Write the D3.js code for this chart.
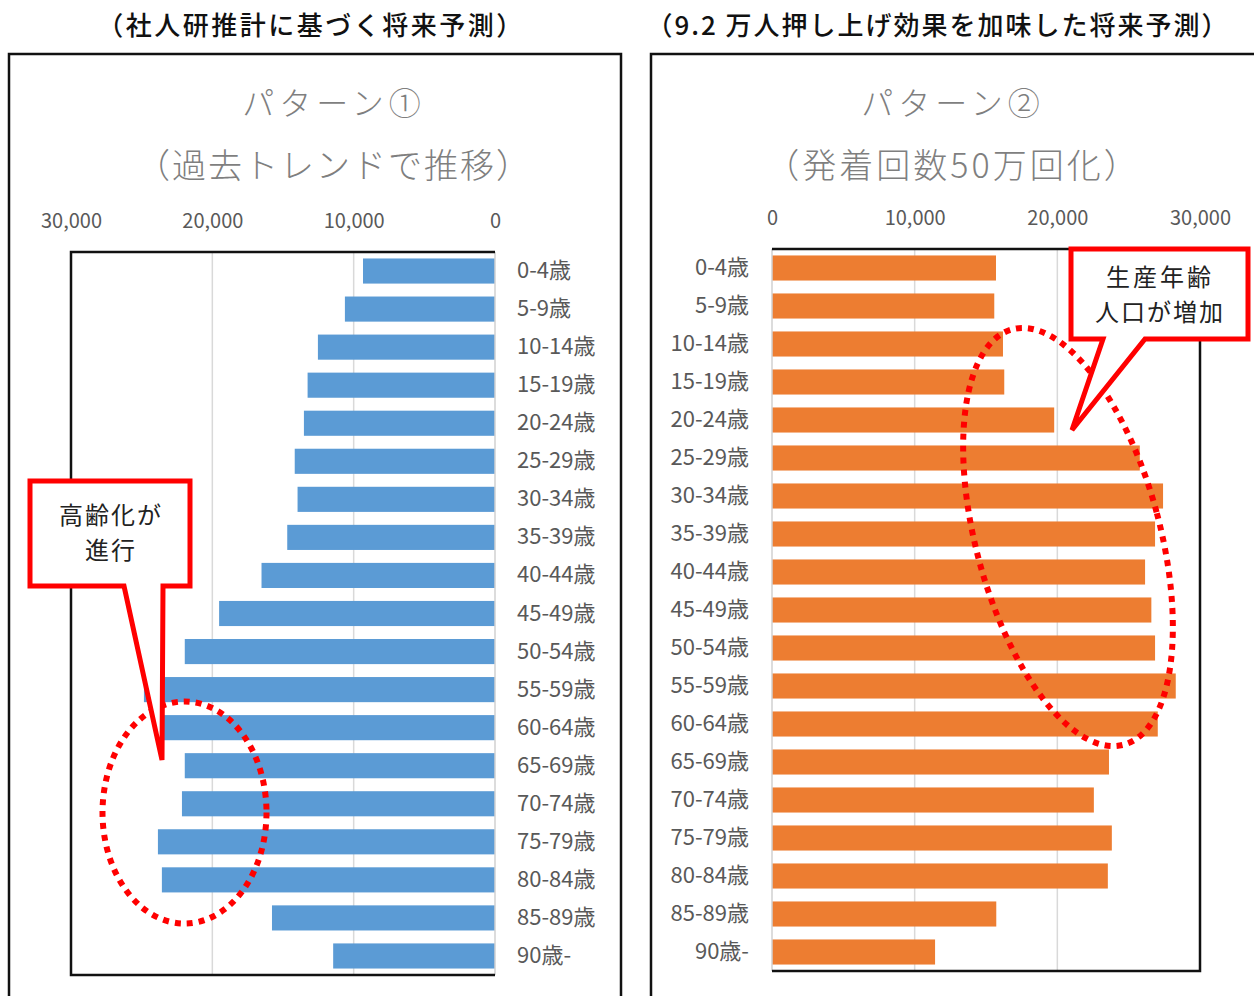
<!DOCTYPE html>
<html><head><meta charset="utf-8">
<script src="https://cdn.jsdelivr.net/npm/d3@7"></script>
<style>
html,body{margin:0;padding:0;background:#fff;}
svg text{font-family:"Noto Sans CJK JP","Noto Sans",sans-serif;}
</style>
</head><body>
<svg id="c" width="1254" height="996"></svg>
<script>
const categories = ["0-4歳","5-9歳","10-14歳","15-19歳","20-24歳","25-29歳","30-34歳","35-39歳","40-44歳","45-49歳","50-54歳","55-59歳","60-64歳","65-69歳","70-74歳","75-79歳","80-84歳","85-89歳","90歳-"];
const pattern1 = [9340,10620,12530,13260,13520,14170,13970,14700,16520,19520,21950,24840,23990,21950,22150,23850,23570,15780,11450];
const pattern2 = [15700,15580,16190,16280,19780,25780,27410,26850,26150,26590,26850,28300,27040,23620,22560,23820,23540,15720,11430];
const tickValues = [0,10000,20000,30000];
const headers = ["（社人研推計に基づく将来予測）","（9.2 万人押し上げ効果を加味した将来予測）"];
const titles1 = ["パターン①","（過去トレンドで推移）"];
const titles2 = ["パターン②","（発着回数50万回化）"];
const callout1 = ["高齢化が","進行"];
const callout2 = ["生産年齢","人口が増加"];

const svg = d3.select("#c");
const fmt = d3.format(",");

// outer frames
svg.append("rect").attr("x",9).attr("y",54).attr("width",612).attr("height",980)
  .attr("fill","none").attr("stroke","#111").attr("stroke-width",2.5);
svg.append("rect").attr("x",651).attr("y",54).attr("width",640).attr("height",980)
  .attr("fill","none").attr("stroke","#111").attr("stroke-width",2.5);

// headers
svg.append("text").attr("x",311).attr("y",35).attr("text-anchor","middle")
  .attr("font-size",26).attr("font-weight",500).attr("letter-spacing",2.5).attr("fill","#111").text(headers[0]);
svg.append("text").attr("x",938).attr("y",35).attr("text-anchor","middle")
  .attr("font-size",26).attr("font-weight",500).attr("letter-spacing",2).attr("fill","#111").text(headers[1]);

function titles(cx, t, ls2){
  svg.append("text").attr("x",cx).attr("y",115).attr("text-anchor","middle")
    .attr("font-size",32).attr("font-weight",300).attr("letter-spacing",5).attr("fill","#7f7f7f").text(t[0]);
  svg.append("text").attr("x",cx).attr("y",178).attr("text-anchor","middle")
    .attr("font-size",34).attr("font-weight",300).attr("letter-spacing",ls2).attr("fill","#7f7f7f").text(t[1]);
}
titles(334, titles1, 2);
titles(953, titles2, 3);

function chart(opts){
  const {x0,x1,y0,y1,data,color,side} = opts;
  const x = d3.scaleLinear().domain([0,30000]).range(side==="left"?[x1,x0]:[x0,x1]);
  const y = d3.scaleBand().domain(categories).range([y0,y1]).paddingInner(0.34).paddingOuter(0.17);
  const g = svg.append("g");
  // gridlines
  g.selectAll("line.grid").data([10000,20000]).join("line")
    .attr("x1",d=>x(d)).attr("x2",d=>x(d)).attr("y1",y0).attr("y2",y1)
    .attr("stroke","#d9d9d9").attr("stroke-width",1.5);
  // bars
  g.selectAll("rect.bar").data(data).join("rect")
    .attr("x",(d)=>Math.min(x(0),x(d)))
    .attr("width",(d)=>Math.abs(x(d)-x(0)))
    .attr("y",(d,i)=>y(categories[i]))
    .attr("height",y.bandwidth())
    .attr("fill",color);
  // zero axis line (grey)
  g.append("line").attr("x1",x(0)).attr("x2",x(0)).attr("y1",y0).attr("y2",y1)
    .attr("stroke","#d0d0d0").attr("stroke-width",1.5);
  // black border on other three sides
  const far = x(30000);
  g.append("path")
    .attr("d", `M${x(0)},${y0} H${far} V${y1} H${x(0)}`)
    .attr("fill","none").attr("stroke","#111").attr("stroke-width",2.5);
  // value axis on top
  const ax = d3.axisTop(x).tickValues(tickValues).tickFormat(fmt).tickSize(0).tickPadding(24);
  const ga = svg.append("g").attr("transform",`translate(0,${y0})`).call(ax);
  ga.select(".domain").remove();
  ga.selectAll("text").attr("font-size",20).attr("fill","#595959")
    .style("font-family","'Noto Sans CJK JP',sans-serif");
  // category axis
  const cat = side==="left"
    ? d3.axisRight(y).tickSize(0).tickPadding(22)
    : d3.axisLeft(y).tickSize(0).tickPadding(23);
  const gc = svg.append("g").attr("transform",`translate(${x(0)},0)`).call(cat);
  gc.select(".domain").remove();
  gc.selectAll("text").attr("font-size",22).attr("fill","#595959")
    .style("font-family","'Noto Sans CJK JP',sans-serif");
}
chart({x0:71,x1:495,y0:252,y1:975,data:pattern1,color:"#5b9bd5",side:"left"});
chart({x0:772,x1:1200,y0:249,y1:971,data:pattern2,color:"#ed7d31",side:"right"});

// dotted ellipses
svg.append("ellipse").attr("cx",184.5).attr("cy",812.5).attr("rx",82).attr("ry",111)
  .attr("fill","none").attr("stroke","#ff0000").attr("stroke-width",6).attr("stroke-dasharray","6,6");
svg.append("ellipse").attr("cx",0).attr("cy",0).attr("rx",92).attr("ry",215)
  .attr("transform","translate(1068,537) rotate(-15)")
  .attr("fill","none").attr("stroke","#ff0000").attr("stroke-width",6).attr("stroke-dasharray","6,6");

// callouts
svg.append("path").attr("d","M30,481 H190 V586 H163 L162,760 L124,586 H30 Z")
  .attr("fill","#fff").attr("stroke","#ff0000").attr("stroke-width",5).attr("stroke-linejoin","miter");
svg.append("text").attr("x",111).attr("y",524).attr("text-anchor","middle")
  .attr("font-size",24).attr("letter-spacing",2).attr("fill","#222").text(callout1[0]);
svg.append("text").attr("x",111).attr("y",559).attr("text-anchor","middle")
  .attr("font-size",24).attr("letter-spacing",2).attr("fill","#222").text(callout1[1]);

svg.append("path").attr("d","M1071,249 H1248 V339 H1145 L1072,430 L1103,339 H1071 Z")
  .attr("fill","#fff").attr("stroke","#ff0000").attr("stroke-width",5).attr("stroke-linejoin","miter");
svg.append("text").attr("x",1160).attr("y",286).attr("text-anchor","middle")
  .attr("font-size",24).attr("letter-spacing",3).attr("fill","#222").text(callout2[0]);
svg.append("text").attr("x",1160).attr("y",321).attr("text-anchor","middle")
  .attr("font-size",24).attr("letter-spacing",2).attr("fill","#222").text(callout2[1]);
</script>
</body></html>
